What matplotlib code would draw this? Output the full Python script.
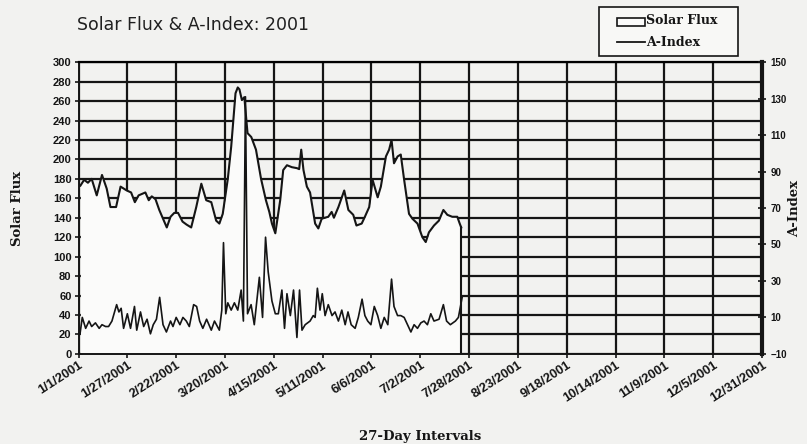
import matplotlib.pyplot as plt
from matplotlib.patches import Rectangle
from matplotlib.lines import Line2D
from matplotlib.transforms import ScaledTranslation

# ── data (day of year offset from 1/1/2001) ──────────────────────────────────
flux_days = [1, 3, 5, 7, 9.7, 12.5, 15, 17, 20, 22.4, 25.7, 28, 30, 32, 35.6,
             37.4, 39, 41, 43, 47, 49, 51, 53, 55.4, 57.5, 60, 62.7, 65.4, 68,
             70.7, 73.3, 75, 76.8, 79.5, 81.3, 83.6, 84.8, 85.7, 87, 88.3, 90,
             92, 94.5, 97.2, 99.8, 101.6, 103, 104.8, 107.4, 109, 111, 113.6,
             116.3, 117.5, 118.6, 119.8, 121.6, 123.3, 126, 127.7, 129.5, 133,
             134.8, 136, 138.4, 141.5, 143.7, 146.3, 148, 150.8, 152.5, 154.8,
             156.6, 159.3, 161, 163.7, 165.4, 166.7, 168, 169.9, 171.6, 173.4,
             176, 177.8, 180.5, 183.1, 184.9, 186.6, 189.3, 191.9, 194.3, 196.4,
             199, 201.7, 203, 203.8]
solar_flux = [173, 179, 176, 180, 163, 184, 170, 151, 151, 172, 168, 166, 156,
              163, 166, 158, 162, 159, 148, 130, 141, 145, 145, 136, 133, 130,
              151, 175, 158, 156, 137, 134, 144, 180, 213, 268, 274, 272, 261,
              264, 227, 223, 210, 180, 158, 146, 134, 124, 158, 189, 194, 192,
              191, 190, 210, 189, 172, 166, 134, 129, 139, 141, 146, 140, 151,
              168, 148, 143, 132, 134, 141, 151, 179, 161, 172, 203, 210, 220,
              196, 203, 205, 179, 144, 139, 134, 120, 115, 125, 132, 137, 148,
              143, 141, 141, 134, 130]

a_days = [0.8, 2, 3.8, 5.6, 7, 9, 11, 12.5, 14.4, 16, 17.8, 20.3, 21.5, 22.7,
          24, 26, 27.7, 29.8, 31, 33, 34.7, 36.5, 38.3, 39.8, 41.5, 43.2, 45,
          46.8, 49, 50.3, 52, 54, 55.6, 57.4, 59, 61.3, 62.9, 64.5, 66.2, 68.2,
          70.7, 72.4, 75, 76.3, 77.2, 78.4, 79.5, 81.3, 83, 84.8, 86.6, 87.8,
          88.9, 90, 91.9, 93.6, 96.3, 98, 99.6, 101, 103, 104.8, 106.4, 108.3,
          109.7, 111, 112.8, 114.5, 116.3, 117.7, 119, 120.7, 123.3, 125, 126,
          127.2, 128.6, 129.8, 131.3, 133, 135, 136.6, 138.4, 140.2, 142, 143.5,
          145.2, 147.3, 149, 151, 152.5, 154, 155.7, 157.5, 159.3, 161, 162.8,
          164.7, 166.7, 168, 169.9, 171.6, 173.4, 175.2, 177, 178.7, 180.5,
          182.3, 184, 185.8, 187.6, 189.3, 192, 194.3, 196, 198, 200.7, 202.3,
          204.3]
a_index = [1, 10, 4, 8, 5, 7, 4, 6, 5, 5, 8, 17, 13, 15, 4, 12, 4, 16, 3, 13,
           5, 9, 1, 6, 9, 21, 6, 2, 8, 5, 10, 6, 10, 8, 5, 17, 16, 8, 4, 9, 3,
           8, 3, 14, 51, 12, 18, 14, 18, 14, 25, 8, 131, 12, 17, 6, 32, 10, 54,
           35, 19, 12, 12, 25, 4, 23, 11, 25, -1, 25, 3, 6, 8, 11, 10, 26, 14,
           23, 11, 17, 11, 13, 8, 14, 6, 13, 6, 4, 10, 20, 11, 8, 6, 16, 11, 4,
           10, 6, 31, 16, 11, 11, 10, 6, 2, 6, 4, 7, 8, 6, 12, 8, 9, 17, 8, 6,
           8, 10, 21]

tick_days = list(range(0, 365, 26))
tick_labels = ["1/1/2001", "1/27/2001", "2/22/2001", "3/20/2001", "4/15/2001",
               "5/11/2001", "6/6/2001", "7/2/2001", "7/28/2001", "8/23/2001",
               "9/18/2001", "10/14/2001", "11/9/2001", "12/5/2001",
               "12/31/2001"]

BG = "#f2f2f0"
FILL = "#fbfbfa"
INK = "#151515"

fig = plt.figure(figsize=(8.07, 4.44), dpi=100)
fig.patch.set_facecolor(BG)
ax = fig.add_axes([0.0973, 0.203, 0.847, 0.657])
ax.set_facecolor(BG)

# grid behind the white flux area
ax.set_axisbelow(True)
ax.grid(True, color=INK, lw=1.6)

ax.fill_between(flux_days, solar_flux, 0, color=FILL, lw=0, zorder=1)
ax.plot(flux_days, solar_flux, color=INK, lw=1.5, zorder=2)
ax.plot([flux_days[-1], flux_days[-1]], [solar_flux[-1], 0],
        color=INK, lw=1.5, zorder=2)

ax.set_xlim(0, 364)
ax.set_ylim(0, 300)
ax.set_yticks(range(0, 301, 20))
ax.set_xticks(tick_days)
ax.set_xticklabels(tick_labels, rotation=33, ha="right",
                   rotation_mode="anchor", fontsize=9.3, fontweight="bold",
                   family="Liberation Sans", color="#222222")
shift = ScaledTranslation(3 / 72, 0, fig.dpi_scale_trans)
for lbl in ax.get_xticklabels():
    lbl.set_transform(lbl.get_transform() + shift)
for lbl in ax.get_yticklabels():
    lbl.set_family("Liberation Sans")
    lbl.set_fontsize(8)
    lbl.set_fontweight("bold")
    lbl.set_color("#222222")
ax.tick_params(axis="both", direction="inout", length=6, width=1.2,
               colors=INK, pad=2)
ax.tick_params(axis="x", pad=1)
for s in ["left", "bottom"]:
    ax.spines[s].set_linewidth(1.4)
    ax.spines[s].set_color(INK)
ax.spines["top"].set_linewidth(1.6)
ax.spines["right"].set_visible(False)

# ── A-Index on secondary axis ────────────────────────────────────────────────
ax2 = ax.twinx()
ax2.plot(a_days, a_index, color=INK, lw=1.2, zorder=3)
ax2.set_ylim(-10, 150)
ax2.set_yticks(range(-10, 151, 20))
for lbl in ax2.get_yticklabels():
    lbl.set_family("Liberation Sans")
    lbl.set_fontsize(7)
    lbl.set_fontweight("bold")
    lbl.set_color("#222222")
ax2.tick_params(axis="y", direction="inout", length=6, width=1.2,
                colors=INK, pad=3)
ax2.spines["right"].set_linewidth(3)
ax2.spines["right"].set_color(INK)
for s in ["left", "top", "bottom"]:
    ax2.spines[s].set_visible(False)

# ── labels ───────────────────────────────────────────────────────────────────
fig.text(0.096, 0.943, "Solar Flux & A-Index: 2001", fontsize=12.5,
         color="#202020", ha="left", va="center", family="DejaVu Sans")
fig.text(0.022, 0.53, "Solar Flux", rotation=90, ha="center", va="center",
         fontsize=9.5, fontweight="bold", family="DejaVu Serif", color=INK)
fig.text(0.985, 0.53, "A-Index", rotation=90, ha="center", va="center",
         fontsize=9.5, fontweight="bold", family="DejaVu Serif", color=INK)
fig.text(0.52, 0.018, "27-Day Intervals", ha="center", va="center",
         fontsize=9.5, fontweight="bold", family="DejaVu Serif", color=INK)

# ── legend box (figure pixel coords, y from top) ─────────────────────────────
W, H = 807, 444
def fx(px):
    return px / W
def fy(py):
    return 1 - py / H

fig.patches.append(Rectangle((fx(599), fy(56)), fx(738) - fx(599),
                             fy(7) - fy(56), transform=fig.transFigure,
                             facecolor="#f8f8f6", edgecolor=INK, lw=1.2))
fig.patches.append(Rectangle((fx(617), fy(26)), fx(645) - fx(617),
                             fy(18) - fy(26), transform=fig.transFigure,
                             facecolor=FILL, edgecolor=INK, lw=1.2))
fig.lines.append(Line2D([fx(617), fx(645)], [fy(42), fy(42)],
                        transform=fig.transFigure, color=INK, lw=1.3))
leg_font = dict(family="DejaVu Serif", weight="bold", size=9, color=INK,
                ha="left", va="center")
fig.text(fx(646), fy(21), "Solar Flux", **leg_font)
fig.text(fx(646), fy(42), "A-Index", **leg_font)

fig.savefig("out.png", dpi=100, facecolor=fig.get_facecolor())
